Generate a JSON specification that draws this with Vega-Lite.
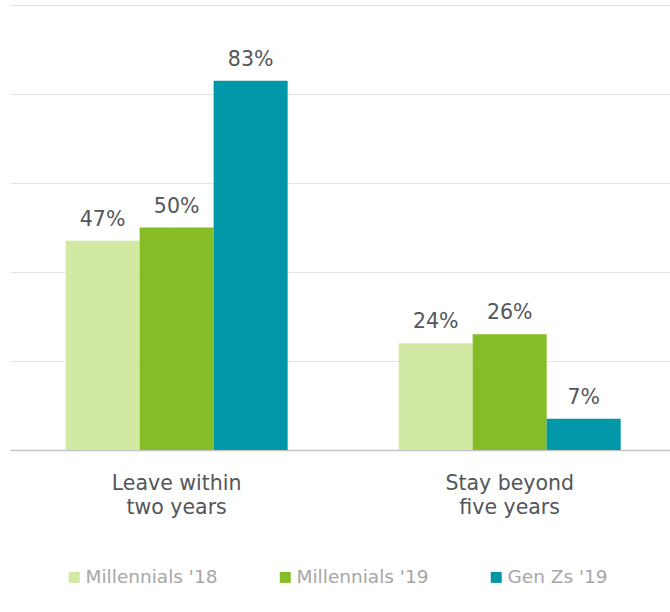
{
  "$schema": "https://vega.github.io/schema/vega-lite/v6.json",
  "autosize": {"type": "none"},
  "padding": {"left": 10, "top": 5, "right": 0, "bottom": 162},
  "width": 660,
  "height": 445,
  "background": "white",
  "config": {
    "view": {"stroke": null},
    "font": "DejaVu Sans"
  },
  "data": {
    "values": [
      {"category": "Leave within|two years", "group": "Millennials '18", "value": 0.47},
      {"category": "Leave within|two years", "group": "Millennials '19", "value": 0.50},
      {"category": "Leave within|two years", "group": "Gen Zs '19", "value": 0.83},
      {"category": "Stay beyond|five years", "group": "Millennials '18", "value": 0.24},
      {"category": "Stay beyond|five years", "group": "Millennials '19", "value": 0.26},
      {"category": "Stay beyond|five years", "group": "Gen Zs '19", "value": 0.07}
    ]
  },
  "encoding": {
    "x": {
      "field": "category", "type": "nominal", "sort": null,
      "scale": {"paddingInner": 0.3333, "paddingOuter": 0.1575, "align": 0.53},
      "axis": {
        "title": null,
        "labelExpr": "split(datum.label, '|')",
        "labelAngle": 0,
        "labelFontSize": 20.5,
        "labelColor": "#53565a",
        "labelLineHeight": 24,
        "labelPadding": 23,
        "ticks": false,
        "domain": true,
        "domainColor": "#c4c4c4",
        "domainWidth": 1.5
      }
    },
    "xOffset": {
      "field": "group", "type": "nominal",
      "sort": ["Millennials '18", "Millennials '19", "Gen Zs '19"],
      "scale": {"paddingInner": 0, "paddingOuter": 0}
    },
    "y": {
      "field": "value", "type": "quantitative",
      "scale": {"domain": [0, 1], "nice": false},
      "axis": {
        "title": null,
        "labels": false,
        "ticks": false,
        "domain": false,
        "values": [0, 0.2, 0.4, 0.6, 0.8, 1],
        "grid": true,
        "gridColor": "#e3e3e3",
        "gridWidth": 1
      }
    }
  },
  "layer": [
    {
      "mark": {"type": "bar"},
      "encoding": {
        "color": {
          "field": "group", "type": "nominal",
          "sort": ["Millennials '18", "Millennials '19", "Gen Zs '19"],
          "scale": {
            "domain": ["Millennials '18", "Millennials '19", "Gen Zs '19"],
            "range": ["#d2e9a3", "#86bc25", "#0097a9"]
          },
          "legend": {
            "orient": "none",
            "legendX": 55,
            "legendY": 563,
            "direction": "horizontal",
            "columns": 3,
            "title": null,
            "padding": 0,
            "symbolType": "square",
            "symbolSize": 121,
            "symbolStrokeWidth": 0,
            "labelFontSize": 18.5,
            "labelColor": "#a6a6a6",
            "labelOffset": 2,
            "columnPadding": 58,
            "labelLimit": 300
          }
        }
      }
    },
    {
      "mark": {"type": "text", "baseline": "alphabetic", "dy": -15, "fontSize": 20.5, "color": "#53565a"},
      "encoding": {
        "text": {"field": "value", "type": "quantitative", "format": ".0%"}
      }
    }
  ]
}
